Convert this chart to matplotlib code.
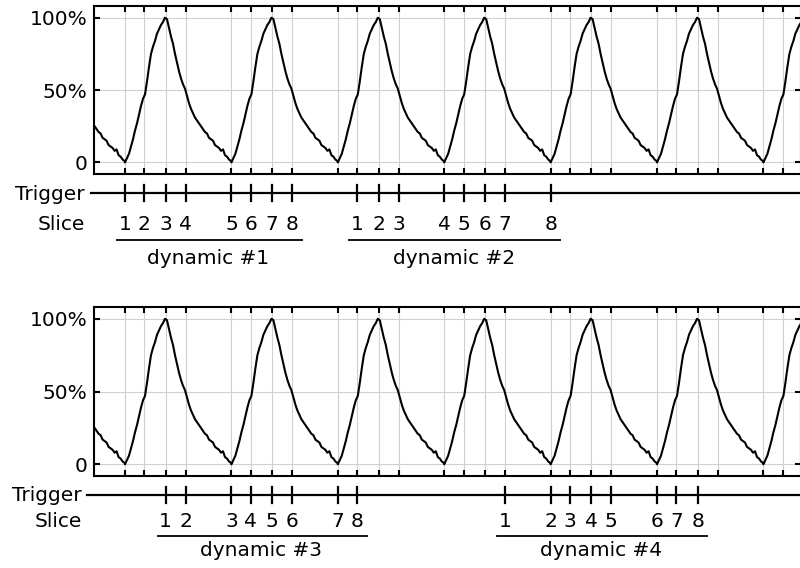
import numpy as np
import matplotlib
matplotlib.use("Agg")
import matplotlib.pyplot as plt
from matplotlib.transforms import blended_transform_factory
from matplotlib.lines import Line2D

# ---------------- data ----------------
period_ms = 1064                      # one cardiac cycle
# one cycle of the signal (time from minimum in ms, signal in %)
cycle_t = [0, 20, 40, 60, 80, 100, 120, 140, 160, 180, 200, 220, 240, 260, 280,
           300, 320, 340, 360, 380, 400, 420, 440, 460, 480, 500, 520, 540, 560,
           580, 600, 620, 640, 660, 680, 700, 720, 740, 760, 780, 800, 820, 840,
           860, 880, 900, 920, 940, 960, 980, 1000, 1020, 1040, 1060]
cycle_signal = [0, 3, 6, 11, 16, 22, 27, 33, 39, 44, 47, 56, 66, 75, 80,
                84, 89, 92, 95, 97, 100, 99, 93, 87, 82, 75, 69, 63, 58,
                54, 51, 46, 41, 37, 34, 31, 29, 27, 25, 23, 21, 20, 17,
                16, 15, 12, 11, 10, 8, 9, 5, 4, 2, 1]
cycle_index = [-1, 0, 1, 2, 3, 4, 5, 6]

slice_phase_ms = [0, 193, 407, 607]   # acquisition phases within a cycle
slice_labels = ["1", "2", "3", "4", "5", "6", "7", "8"]

dyn1_cycle = [0, 0, 0, 0, 1, 1, 1, 1]
dyn1_phase = [0, 1, 2, 3, 0, 1, 2, 3]
dyn2_cycle = [2, 2, 2, 3, 3, 3, 3, 4]
dyn2_phase = [1, 2, 3, 0, 1, 2, 3, 0]
dyn3_cycle = [0, 0, 1, 1, 1, 1, 2, 2]
dyn3_phase = [2, 3, 0, 1, 2, 3, 0, 1]
dyn4_cycle = [3, 4, 4, 4, 4, 5, 5, 5]
dyn4_phase = [3, 0, 1, 2, 3, 0, 1, 2]
dyn_names = ["dynamic #1", "dynamic #2", "dynamic #3", "dynamic #4"]

ytick_vals = [0, 50, 100]
ytick_labels = ["0", "50%", "100%"]

# ---------------- layout ----------------
W, H = 800, 568
plt.rcParams["font.family"] = ["DejaVu Sans"]
FS = 14.5
fig = plt.figure(figsize=(W / 100, H / 100), dpi=100)


def rect(l, t, r, b):
    return [l / W, 1 - b / H, (r - l) / W, (b - t) / H]


def fy(py):
    return 1 - py / H


t_all = np.concatenate([k * period_ms + np.array(cycle_t) for k in cycle_index])
s_all = np.tile(cycle_signal, len(cycle_index))
XLIM = (-307, 6760)
grid_x = [k * period_ms + p for k in cycle_index for p in slice_phase_ms]
grid_x = [g for g in grid_x if XLIM[0] < g < XLIM[1]]

panels = [
    dict(box=(94.3, 5.7, 801, 174), trig_y=193.3, tick_half=8, line_x0=91,
         lab_x=85, trig_lab_y=195, slice_y=224.3, under_y=239.5, dyn_y=258.5,
         dyns=[(dyn1_cycle, dyn1_phase, dyn_names[0]),
               (dyn2_cycle, dyn2_phase, dyn_names[1])]),
    dict(box=(94.3, 306.7, 801, 476), trig_y=495, tick_half=8, line_x0=87,
         lab_x=81.5, trig_lab_y=495.5, slice_y=521.5, under_y=535.5, dyn_y=550,
         dyns=[(dyn3_cycle, dyn3_phase, dyn_names[2]),
               (dyn4_cycle, dyn4_phase, dyn_names[3])]),
]

for P in panels:
    ax = fig.add_axes(rect(*P["box"]))
    ax.plot(t_all, s_all, color="black", lw=1.5, zorder=3)
    ax.set_xlim(*XLIM)
    ax.set_ylim(-8, 108.3)
    ax.set_xticks(grid_x)
    ax.set_xticklabels([])
    ax.set_yticks(ytick_vals)
    ax.set_yticklabels(ytick_labels, fontsize=FS)
    ax.tick_params(direction="in", top=True, right=True, length=4.3, width=1.5,
                   pad=5, color="black")
    ax.grid(True, color="#d0d0d0", lw=0.8, zorder=0)
    for sp in ax.spines.values():
        sp.set_linewidth(1.5)

    tr = blended_transform_factory(ax.transData, fig.transFigure)

    # labels on the left
    fig.text(P["lab_x"] / W, fy(P["trig_lab_y"]), "Trigger", ha="right",
             va="center", fontsize=FS)
    fig.text(P["lab_x"] / W, fy(P["slice_y"]), "Slice", ha="right",
             va="center", fontsize=FS)

    # trigger line
    fig.add_artist(Line2D([P["line_x0"] / W, 1.0], [fy(P["trig_y"])] * 2,
                          transform=fig.transFigure, color="black", lw=1.6))

    for cyc, ph, name in P["dyns"]:
        times = [c * period_ms + slice_phase_ms[p] for c, p in zip(cyc, ph)]
        for tt, lab in zip(times, slice_labels):
            fig.add_artist(Line2D([tt, tt],
                                  [fy(P["trig_y"] - P["tick_half"]),
                                   fy(P["trig_y"] + P["tick_half"])],
                                  transform=tr, color="black", lw=1.6))
            fig.text(tt, fy(P["slice_y"]), lab, transform=tr, ha="center",
                     va="center", fontsize=FS)
        x0, x1 = times[0] - 80, times[-1] + 95
        fig.add_artist(Line2D([x0, x1], [fy(P["under_y"])] * 2, transform=tr,
                              color="black", lw=1.3))
        fig.text((times[0] + times[-1]) / 2, fy(P["dyn_y"]), name, transform=tr,
                 ha="center", va="center", fontsize=FS)

fig.savefig("out.png", dpi=100)
